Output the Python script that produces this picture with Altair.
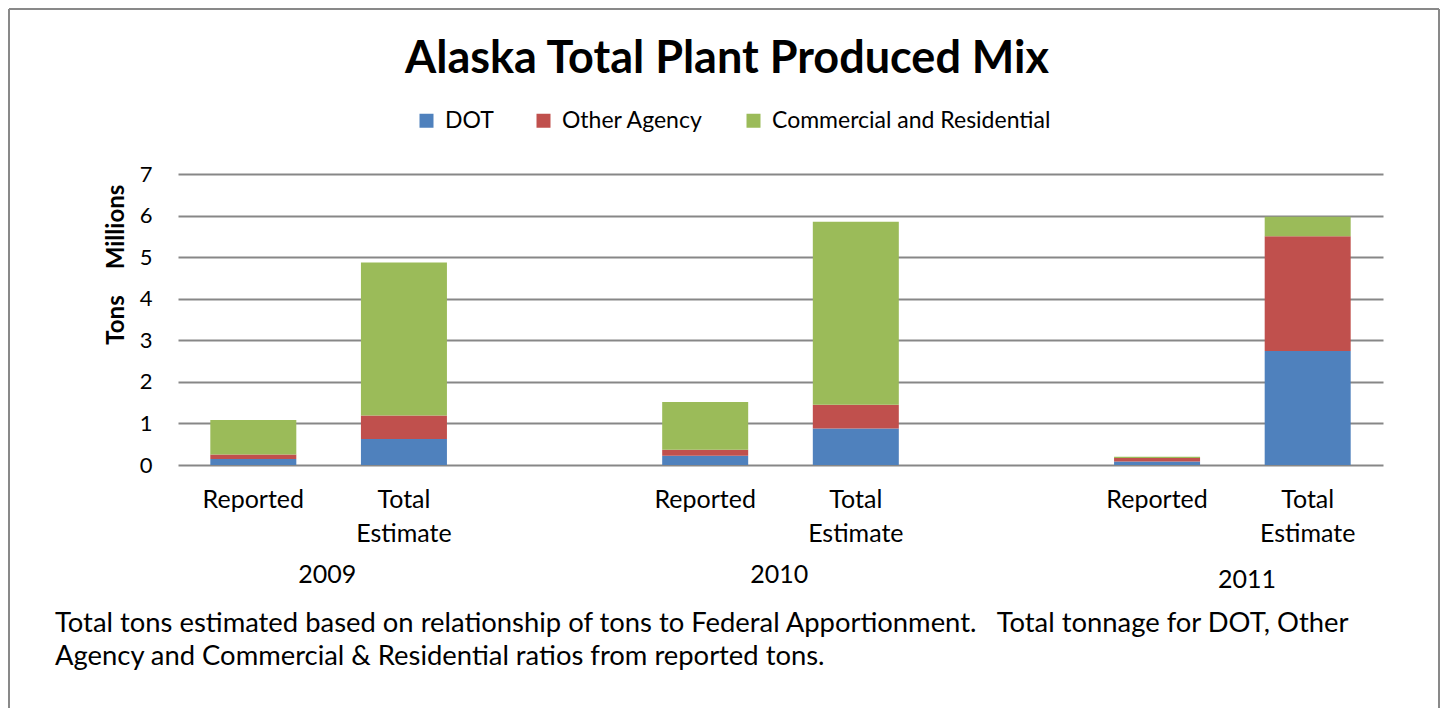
import altair as alt
import pandas as pd

# ---------------- data ----------------
years = ["2009", "2010", "2011"]
stages = ["Reported", "Total Estimate"]
series = ["DOT", "Other Agency", "Commercial and Residential"]
colors = ["#4F81BD", "#C0504D", "#9BBB59"]

# millions of tons, in order: 2009 Rep, 2009 Tot, 2010 Rep, 2010 Tot, 2011 Rep, 2011 Tot
dot = [0.144, 0.625, 0.224, 0.88, 0.087, 2.74]
other = [0.111, 0.565, 0.144, 0.57, 0.081, 2.76]
commercial = [0.825, 3.68, 1.147, 4.40, 0.032, 0.47]

y_ticks = [0, 1, 2, 3, 4, 5, 6, 7]
title_text = "Alaska Total Plant Produced Mix"
y_title = "Tons"
y_units = "Millions"
caption_lines = [
    "Total tons estimated based on relationship of tons to Federal Apportionment.\u00a0\u00a0 Total tonnage for DOT, Other",
    "Agency and Commercial & Residential ratios from reported tons.",
]

FONT = "Lato"

# slots on the category axis (an empty slot between the years)
slots = []
for i, y in enumerate(years):
    slots += [f"{y} {s}" for s in stages]
    if i < len(years) - 1:
        slots.append(f"{y} gap")

rows = []
idx = 0
for y in years:
    for s in stages:
        for k, (name, vals) in enumerate(zip(series, [dot, other, commercial])):
            rows.append(dict(slot=f"{y} {s}", year=y, stage=s, series=name,
                             order=k, value=vals[idx]))
        idx += 1
df = pd.DataFrame(rows)

year_df = pd.DataFrame({"year": years, "slot": [f"{y} {stages[0]}" for y in years]})
one = pd.DataFrame({"k": [0]})

x_scale = alt.Scale(domain=slots, paddingInner=0, paddingOuter=0)

label_expr = ("indexof(datum.value, 'Reported') >= 0 ? 'Reported' : "
              "(indexof(datum.value, 'Total') >= 0 ? ['Total', 'Estimate'] : '')")

bars = alt.Chart(df).mark_bar(size=86).encode(
    x=alt.X("slot:N", scale=x_scale, sort=slots,
            axis=alt.Axis(title=None, labelExpr=label_expr, labelFontSize=25,
                          labelPadding=22, labelLineHeight=34, labelAngle=0,
                          ticks=False, tickSize=0, domain=False, grid=False,
                          labelColor="black", labelBaseline="top",
                          labelFont=FONT)),
    y=alt.Y("value:Q", stack="zero",
            scale=alt.Scale(domain=[0, 7], nice=False),
            axis=alt.Axis(title=None, values=y_ticks, grid=True,
                          gridColor="#878787", gridWidth=2, domain=False,
                          ticks=False, tickSize=0, labelPadding=26,
                          labelFontSize=22, labelColor="black", labelFont=FONT)),
    color=alt.Color("series:N", scale=alt.Scale(domain=series, range=colors),
                    legend=alt.Legend(title=None, orient="none", legendX=237,
                                      legendY=-65, direction="horizontal",
                                      symbolType="square", symbolSize=196,
                                      symbolStrokeWidth=0, labelFontSize=23,
                                      labelOffset=7, columnPadding=38,
                                      labelColor="black", labelLimit=600,
                                      labelFont=FONT)),
    order=alt.Order("order:Q", sort="ascending"),
)

year_labels = alt.Chart(year_df).transform_filter(
    alt.FieldOneOfPredicate(field="year", oneOf=years[:-1])
).mark_text(
    dx=74, fontSize=25, baseline="alphabetic", align="center", color="black", font=FONT
).encode(
    x=alt.X("slot:N", scale=x_scale, sort=slots),
    y=alt.value(409),
    text="year:N",
)

last_year_label = alt.Chart(year_df).transform_filter(
    alt.FieldEqualPredicate(field="year", equal=years[-1])
).mark_text(
    dx=90, fontSize=25, baseline="alphabetic", align="center", color="black", font=FONT
).encode(
    x=alt.X("slot:N", scale=x_scale, sort=slots),
    y=alt.value(414),
    text="year:N",
)

title = alt.Chart(one).mark_text(
    text=title_text, fontSize=45, fontWeight="bold", font=FONT,
    align="center", baseline="alphabetic", color="black"
).encode(x=alt.value(549), y=alt.value(-101))

ytitle = alt.Chart(one).mark_text(
    text=y_title, fontSize=24, fontWeight="bold", font=FONT, angle=270,
    align="center", baseline="middle", color="black"
).encode(x=alt.value(-61), y=alt.value(146))

yunits = alt.Chart(one).mark_text(
    text=y_units, fontSize=24, fontWeight="bold", font=FONT, angle=270,
    align="center", baseline="middle", color="black"
).encode(x=alt.value(-61), y=alt.value(53))

cap1 = alt.Chart(one).mark_text(
    text=caption_lines[0], fontSize=27.4, font=FONT, align="left",
    baseline="alphabetic", color="black"
).encode(x=alt.value(-123), y=alt.value(458))

cap2 = alt.Chart(one).mark_text(
    text=caption_lines[1], fontSize=27.4, font=FONT, align="left",
    baseline="alphabetic", color="black"
).encode(x=alt.value(-123), y=alt.value(491))

# chart frame
frame_col = "#898989"
left = alt.Chart(one).mark_rule(color=frame_col, strokeWidth=2).encode(
    x=alt.value(-169), y=alt.value(-165), y2=alt.value(540))
top = alt.Chart(one).mark_rule(color=frame_col, strokeWidth=2).encode(
    x=alt.value(-169), x2=alt.value(1261), y=alt.value(-165))
right = alt.Chart(one).mark_rule(color=frame_col, strokeWidth=2).encode(
    x=alt.value(1261), y=alt.value(-165), y2=alt.value(540))

chart = alt.layer(
    bars, year_labels, last_year_label, title, ytitle, yunits, cap1, cap2,
    left, top, right
).properties(
    width=1205, height=291,
    padding={"left": 170, "top": 166, "right": 57, "bottom": 243},
    autosize=alt.AutoSizeParams(type="none"),
).configure(font=FONT, background="white").configure_view(stroke=None)

chart.save("out.html", embed_options={"renderer": "svg", "actions": False})
